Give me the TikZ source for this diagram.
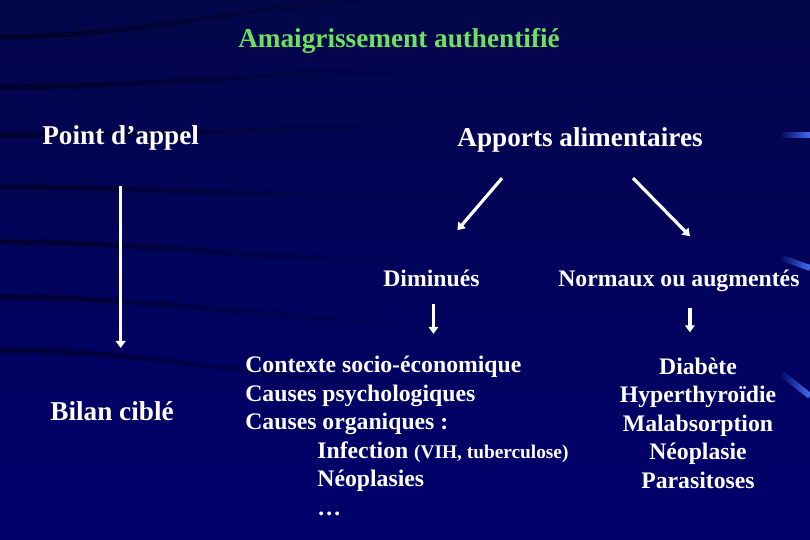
\documentclass[tikz,border=0pt]{standalone}
\usepackage{fontspec}
\setmainfont{Liberation Serif}
\usepackage{xcolor}
\usepackage{tikz}
\usetikzlibrary{arrows.meta,positioning,fadings}
\definecolor{slide_navy}{RGB}{0,0,108}
\definecolor{slide_dark}{RGB}{4,6,74}
\definecolor{slide_green}{RGB}{108,226,96}
\definecolor{slide_accent}{RGB}{70,120,255}
\newcommand{\bigtxt}{\fontsize{15.5}{18.6}\selectfont}
\newcommand{\midtxt}{\fontsize{13.5}{16.2}\selectfont}

\begin{document}
\begin{tikzpicture}[x=0.02cm, y=-0.02cm, font=\bfseries,
    lbl/.style={text=white, inner sep=0pt},
    arr/.style={draw=white, line width=1.8pt, -{Triangle[length=4pt,width=5.5pt]}},
    streak/.style={line width=3pt, draw=black, draw opacity=0.45, path fading=east},
    accent/.style={line width=3.4pt, draw=slide_accent, path fading=west}]
  % Slide background
  \shade[top color=slide_dark, bottom color=slide_navy] (0,0) rectangle (810,540);
  \useasboundingbox (0,0) rectangle (810,540);
  \foreach \y/\e in {37/-5, 87/70, 135/128, 187/198, 242/262, 297/322, 350/385}
    \draw[streak] (0,\y) .. controls (150,\y) and (300,\e) .. (430,\e);
  \draw[accent] (782,135) -- (810,135);
  \draw[accent] (782,258) -- (810,268);
  \draw[accent] (782,374) -- (810,396);

  % Titles
  \node[lbl, text=slide_green, font=\bfseries\bigtxt, anchor=base] (titre) at (399,48)
    {Amaigrissement authentifié};
  \node[lbl, font=\bfseries\bigtxt, anchor=base west] (appel) at (42,145) {Point d’appel};
  \node[lbl, font=\bfseries\bigtxt, anchor=base west] (apports) at (457,147)
    {Apports alimentaires};
  \node[lbl, font=\bfseries\bigtxt, anchor=base west] (bilan) at (50,420) {Bilan ciblé};

  % Second level (base = last line)
  \node[lbl, font=\bfseries\midtxt, anchor=base west] (dimin) at (383,286) {Diminués};
  \node[lbl, font=\bfseries\midtxt, anchor=base west] (normaux) at (558,286)
    {Normaux ou augmentés};
  \node[lbl, font=\bfseries\midtxt, anchor=base west, align=left] (causes) at (245,515)
    {Contexte socio-économique\\
     Causes psychologiques\\
     Causes organiques :\\
     \hspace*{41pt}Infection {\fontsize{11}{13}\selectfont (VIH, tuberculose)}\\
     \hspace*{41pt}Néoplasies\\
     \hspace*{41pt}\dots};
  \node[lbl, font=\bfseries\midtxt, anchor=base, align=center] (diag) at (698,488)
    {Diabète\\Hyperthyroïdie\\Malabsorption\\Néoplasie\\Parasitoses};

  % Arrows
  \draw[arr, shorten <=20pt, shorten >=30pt] (appel.south) -- (appel.south |- bilan.north);
  \draw[arr] ([shift={(-78,25)}]apports.south) -- ([shift={(26,-39)}]dimin.north);
  \draw[arr] ([shift={(53,25)}]apports.south) -- ([shift={(11,-33)}]normaux.north);
  \draw[arr] ([shift={(2,17)}]dimin.south) -- ([shift={(2,-22)}]dimin.south |- causes.north);
  \draw[arr] ([shift={(11,16)}]normaux.south) -- ([shift={(11,-25)}]normaux.south |- diag.north);
\end{tikzpicture}
\end{document}
